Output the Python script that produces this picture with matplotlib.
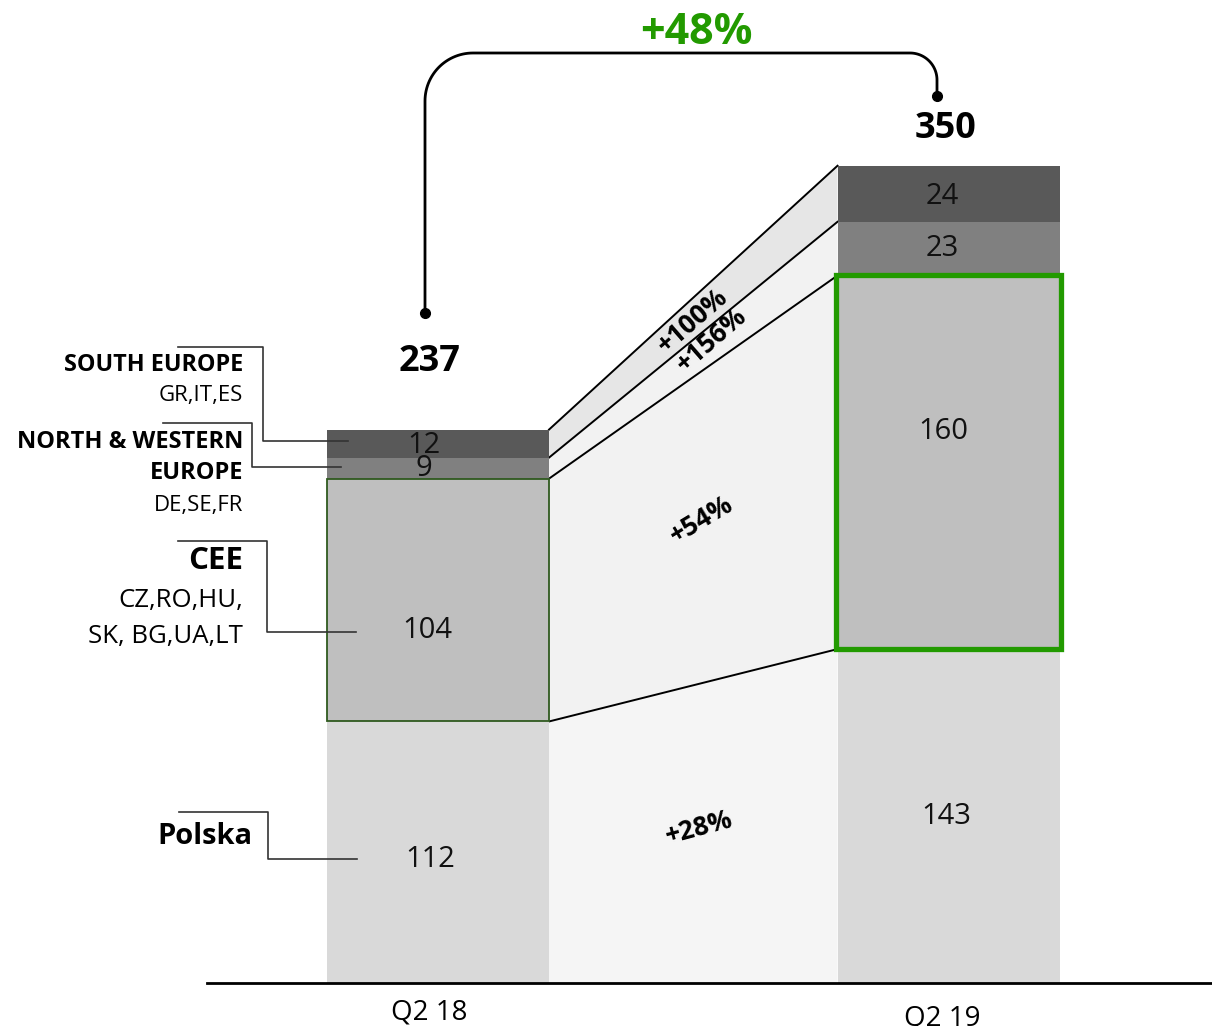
import numpy as np
import matplotlib.pyplot as plt
from matplotlib.patches import Polygon, Rectangle

plt.rcParams["font.family"] = ["Open Sans", "DejaVu Sans"]

# Revenue by region, two quarters
periods = ["Q2 18", "Q2 19"]
regions = ["Polska", "CEE", "NORTH & WESTERN\nEUROPE", "SOUTH EUROPE"]
countries = ["", "CZ,RO,HU,\nSK, BG,UA,LT", "DE,SE,FR", "GR,IT,ES"]
q2_18 = [112, 104, 9, 12]
q2_19 = [143, 160, 23, 24]

bar_colors = ["#d9d9d9", "#bfbfbf", "#808080", "#595959"]
band_colors = ["#f5f5f5", "#f2f2f2", "#f2f2f2", "#e6e6e6"]
green = "#229a00"

# axes units: x = category index, y = value; pixel scale derived for a 1212x1026 canvas
PX_X = 510.5
PX_Y = 2.335
X0, Y0 = 438, 983


def px(x, y):
    """canvas pixel (from top-left) -> data coords"""
    return (x - X0) / PX_X, (Y0 - y) / PX_Y


def lines(x, y_list, text, **kw):
    """right-aligned multi-line label with fixed line positions"""
    for yy, line in zip(y_list, text.split("\n")):
        ax.text(px(x, 0)[0], px(0, yy)[1], line, ha="right", va="center", **kw)


fig = plt.figure(figsize=(12.12, 10.26), dpi=100)
ax = fig.add_axes([0, 0, 1, 1])
ax.set_xlim(-X0 / PX_X, (1212 - X0) / PX_X)
ax.set_ylim(-(1026 - Y0) / PX_Y, Y0 / PX_Y)
ax.axis("off")

width = 222 / PX_X
xs = [0, 1]
stacks = [q2_18, q2_19]

bottoms = [np.concatenate([[0], np.cumsum(s)[:-1]]) for s in stacks]
tops = [np.cumsum(s) for s in stacks]

# connecting bands between the two bars
xr = xs[0] + width / 2
xl = xs[1] - width / 2
for i in range(len(regions)):
    poly = Polygon([(xr, bottoms[0][i]), (xr, tops[0][i]), (xl, tops[1][i]), (xl, bottoms[1][i])],
                   closed=True, facecolor=band_colors[i], edgecolor="none", zorder=1)
    ax.add_patch(poly)
    ax.plot([xr, xl], [tops[0][i], tops[1][i]], color="black", lw=1.4, zorder=2)

# stacked bars
for j, s in enumerate(stacks):
    ax.bar(xs[j], s, width=width, bottom=bottoms[j], color=bar_colors,
           edgecolor="none", zorder=3)

# edge on the first CEE segment, thick green frame on the second
ax.add_patch(Rectangle((xs[0] - width / 2, bottoms[0][1]), width, q2_18[1],
                       fill=False, edgecolor="#2f5a1f", lw=1.3, zorder=4))
ax.add_patch(Rectangle((xs[1] - width / 2 - 0.002, bottoms[1][1]), width + 0.004, q2_19[1],
                       fill=False, edgecolor=green, lw=3.8, zorder=4))

# segment values
label_shift = [[3, 13, 0, 1], [0, -13, 0, 1]]
label_dx = [[-0.015, -0.02, -0.027, -0.027], [-0.004, -0.01, -0.012, -0.012]]
for j, s in enumerate(stacks):
    for i, v in enumerate(s):
        yc = bottoms[j][i] + v / 2 - label_shift[j][i]
        ax.text(xs[j] + label_dx[j][i], yc, str(v), ha="center", va="center",
                fontsize=21, color="#111111", zorder=5)

# totals
totals = [sum(s) for s in stacks]
total_y = [px(0, 362)[1], px(0, 129)[1]]
ax.text(xs[0] - 0.016, total_y[0], str(totals[0]), ha="center", va="center",
        fontsize=26, fontweight="bold", zorder=5)
ax.text(xs[1] - 0.005, total_y[1], str(totals[1]), ha="center", va="center",
        fontsize=26, fontweight="bold", zorder=5)

# growth labels along the bands
growth_pos = [(699, 828), (702, 520), (712, 340), (693, 321)]
growth_rot = [15, 31, 41, 41]
for i in range(len(regions)):
    g = (q2_19[i] / q2_18[i] - 1) * 100
    gx, gy = px(*growth_pos[i])
    ax.text(gx, gy, f"+{g:.0f}%", ha="center", va="center", rotation=growth_rot[i],
            fontsize=19, fontweight="bold", zorder=5)

# bracket with total growth
lx, ly = px(425, 313)
rx, ry = px(937, 96)
_, top = px(0, 53)
r1x, r1y = 48 / PX_X, 48 / PX_Y
r2x, r2y = 27 / PX_X, 27 / PX_Y
t = np.linspace(0, np.pi / 2, 30)
left_arc_x = lx + r1x - r1x * np.cos(t)
left_arc_y = top - r1y + r1y * np.sin(t)
right_arc_x = rx - r2x + r2x * np.sin(t)
right_arc_y = top - r2y + r2y * np.cos(t)
bx = np.concatenate([[lx], left_arc_x, right_arc_x, [rx]])
by = np.concatenate([[ly], left_arc_y, right_arc_y, [ry]])
ax.plot(bx, by, color="black", lw=2, solid_capstyle="butt", zorder=5)
ax.plot([lx, rx], [ly, ry], "o", color="black", ms=7, zorder=6)
total_growth = (totals[1] / totals[0] - 1) * 100
gx, gy = px(696, 32)
ax.text(gx, gy, f"+{total_growth:.0f}%", ha="center", va="center",
        fontsize=31, fontweight="bold", color=green, zorder=6)

# baseline and period labels
bl0, _ = px(207, 0)
ax.plot([bl0, 1212 / PX_X], [0, 0], color="black", lw=2, zorder=6)
ax.text(xs[0] - 0.018, px(0, 1013)[1], periods[0], ha="center", va="center", fontsize=20)
ax.text(xs[1] - 0.012, px(0, 1018)[1], periods[1], ha="center", va="center", fontsize=20)

# region leaders: (top-left x, top y, corner x, bottom y, end x)
leaders = [
    (179, 812, 268, 859, 357),
    (178, 541, 267, 632, 356),
    (163, 423, 252, 467, 341),
    (178, 347, 263, 441, 348),
]
for a, b, c, d, e in leaders:
    p = [px(a, b), px(c, b), px(c, d), px(e, d)]
    ax.plot([q[0] for q in p], [q[1] for q in p], color="#333333", lw=1.2, zorder=6)

lines(253, [837], regions[0], fontsize=21, fontweight="bold")
lines(243, [561], regions[1], fontsize=22.5, fontweight="bold")
lines(243, [601, 637], countries[1], fontsize=18.5)
lines(243, [442, 473], regions[2], fontsize=17, fontweight="bold")
lines(243, [506], countries[2], fontsize=16)
lines(243, [365], regions[3], fontsize=16.8, fontweight="bold")
lines(243, [396], countries[3], fontsize=16)

fig.savefig("out.png", dpi=100)
